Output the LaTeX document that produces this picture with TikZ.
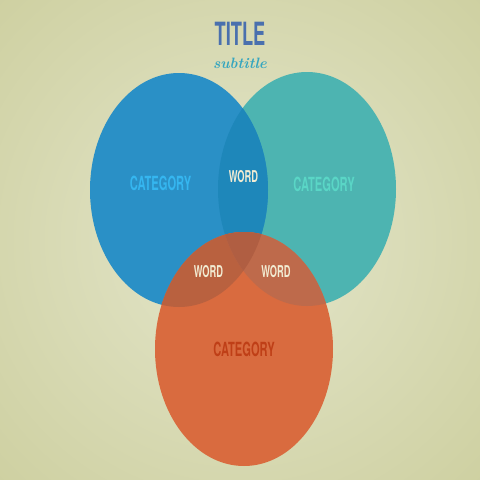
\documentclass[tikz,border=0pt]{standalone}
\usepackage{fontspec}
\newfontfamily\headfont{TeX Gyre Heros}

\definecolor{bgin}{HTML}{E4E6CB}
\definecolor{bgout}{HTML}{CDCF9F}
\definecolor{bluefill}{HTML}{2A90C6}
\definecolor{tealfill}{HTML}{4DB4B1}
\definecolor{lensfill}{HTML}{1E87BA}
\definecolor{orangefill}{HTML}{D96B3F}
\definecolor{overblue}{HTML}{B9613F}
\definecolor{overteal}{HTML}{BE6A4B}
\definecolor{overboth}{HTML}{B05E42}
\definecolor{titleblue}{HTML}{4A70AE}
\definecolor{subteal}{HTML}{36A6BF}
\definecolor{bluetext}{HTML}{35B6F0}
\definecolor{tealtext}{HTML}{5AD6C6}
\definecolor{wordtext}{HTML}{F2ECD3}
\definecolor{orangetext}{HTML}{BF3F17}

\tikzset{
  label/.style={inner sep=0pt, font=\headfont\bfseries},
  cattext/.style={label, font=\headfont\bfseries\fontsize{19.5}{20}\selectfont},
  wordtext/.style={label, text=wordtext, font=\headfont\bfseries\fontsize{16.3}{17}\selectfont}
}
\newcommand{\narrow}[1]{\scalebox{0.57}[1]{#1}}

\begin{document}
\begin{tikzpicture}[x=1pt, y=-1pt]
  \useasboundingbox (0,0) rectangle (480,480);

  % Background with a soft vignette
  \begin{scope}
    \clip (0,0) rectangle (480,480);
    \fill[bgout] (0,0) rectangle (480,480);
    \shade[inner color=bgin, outer color=bgout] (240,240) circle[radius=360pt];
  \end{scope}

  % Centres and radii of the three sets
  \coordinate (blue) at (179,190);
  \coordinate (teal) at (307,189);
  \coordinate (orange) at (244,349);
  \def\rx{89pt}
  \def\ry{117pt}

  % Teal and blue sets
  \fill[tealfill] (teal) ellipse[x radius=\rx, y radius=\ry];
  \fill[bluefill] (blue) ellipse[x radius=\rx, y radius=\ry];
  \begin{scope}
    \clip (blue) ellipse[x radius=\rx, y radius=\ry];
    \fill[lensfill] (teal) ellipse[x radius=\rx, y radius=\ry];
  \end{scope}

  % Orange set on top, darker where it covers the others
  \fill[orangefill] (orange) ellipse[x radius=\rx, y radius=\ry];
  \begin{scope}
    \clip (orange) ellipse[x radius=\rx, y radius=\ry];
    \fill[overblue] (blue) ellipse[x radius=\rx, y radius=\ry];
    \fill[overteal] (teal) ellipse[x radius=\rx, y radius=\ry];
    \clip (blue) ellipse[x radius=\rx, y radius=\ry];
    \fill[overboth] (teal) ellipse[x radius=\rx, y radius=\ry];
  \end{scope}

  % Title
  \node[label, text=titleblue, font=\headfont\bfseries\fontsize{32}{34}\selectfont] (title) at (240,34) {\narrow{TITLE}};
  \node[inner sep=0pt, text=subteal, font=\bfseries\itshape\fontsize{15}{16}\selectfont] (subtitle) at (240,63) {subtitle};

  % Set labels
  \node[cattext, text=bluetext] (bluecat) at (160.5,183) {\narrow{CATEGORY}};
  \node[cattext, text=tealtext] (tealcat) at (324,184) {\narrow{CATEGORY}};
  \node[cattext, text=orangetext] (orangecat) at (244,349) {\narrow{CATEGORY}};

  % Overlap labels
  \node[wordtext] (wordtop) at (243.5,177) {\narrow{WORD}};
  \node[wordtext] (wordleft) at (208.5,271.5) {\narrow{WORD}};
  \node[wordtext] (wordright) at (276,271.5) {\narrow{WORD}};

\end{tikzpicture}
\end{document}
